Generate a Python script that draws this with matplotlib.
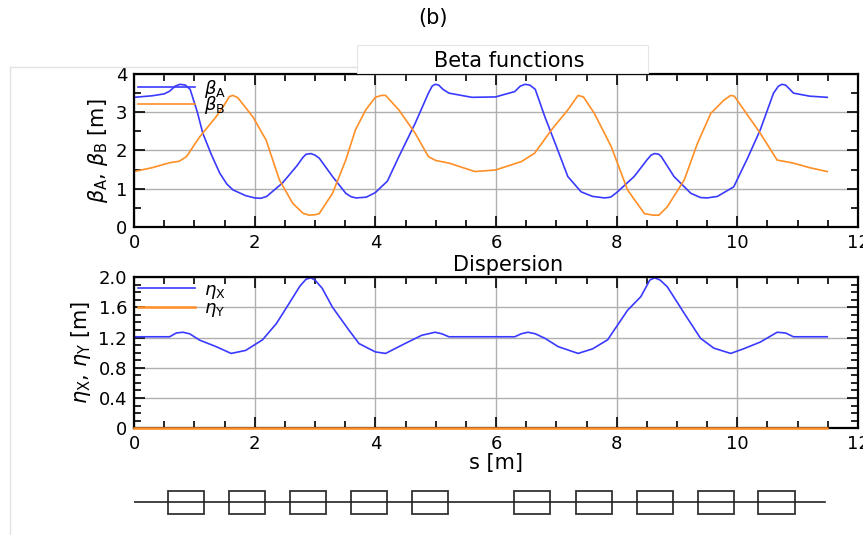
import matplotlib
matplotlib.use('Agg')
import matplotlib.pyplot as plt
from matplotlib.lines import Line2D
from matplotlib.patches import Rectangle
from matplotlib.ticker import MultipleLocator, FuncFormatter

plt.rcParams['font.family'] = ['DejaVu Sans']

# beta functions [m] along s [m]
s_beta_a = [0, 0.3, 0.5, 0.59, 0.68, 0.76, 0.85, 0.93, 1.05, 1.14, 1.28, 1.42, 1.54, 1.64, 1.85,
            2.0, 2.1, 2.2, 2.46, 2.7, 2.8, 2.85, 2.93, 3.0, 3.07, 3.29, 3.51, 3.6, 3.68, 3.85, 4.0,
            4.2, 4.39, 4.66, 4.88, 4.94, 4.99, 5.05, 5.12, 5.22, 5.6, 5.99, 6.31, 6.40, 6.48, 6.56,
            6.65, 6.81, 6.98, 7.19, 7.41, 7.60, 7.80, 7.9, 8.0, 8.29, 8.5, 8.57, 8.63, 8.70, 8.74,
            8.95, 9.23, 9.39, 9.5, 9.67, 9.94, 10.17, 10.38, 10.6, 10.68, 10.74, 10.8, 10.87, 10.93,
            11.2, 11.49]
beta_a = [3.39, 3.43, 3.48, 3.55, 3.68, 3.73, 3.71, 3.6, 3.0, 2.45, 1.9, 1.41, 1.12, 0.97, 0.82,
          0.76, 0.75, 0.8, 1.15, 1.6, 1.82, 1.9, 1.92, 1.88, 1.8, 1.32, 0.88, 0.79, 0.76, 0.78, 0.9,
          1.2, 1.84, 2.71, 3.5, 3.68, 3.73, 3.71, 3.6, 3.5, 3.39, 3.40, 3.54, 3.68, 3.73, 3.71,
          3.6, 2.88, 2.19, 1.32, 0.92, 0.8, 0.76, 0.78, 0.9, 1.32, 1.75, 1.88, 1.92, 1.9, 1.84,
          1.32, 0.88, 0.77, 0.76, 0.8, 1.05, 1.8, 2.54, 3.5, 3.68, 3.73, 3.71, 3.6, 3.5,
          3.42, 3.39]

s_beta_b = [0, 0.3, 0.59, 0.75, 0.87, 1.09, 1.36, 1.50, 1.58, 1.64, 1.72, 1.97, 2.19, 2.41, 2.63,
            2.80, 2.90, 3.0, 3.07, 3.29, 3.51, 3.67, 3.84, 4.0, 4.10, 4.17, 4.39, 4.66, 4.88, 5.0,
            5.22, 5.65, 5.99, 6.42, 6.64, 6.92, 7.19, 7.36, 7.45, 7.63, 7.91, 8.18, 8.46, 8.6, 8.70,
            8.84, 9.12, 9.34, 9.56, 9.78, 9.89, 9.95, 10.11, 10.38, 10.66, 10.93, 11.2, 11.49]
beta_b = [1.45, 1.55, 1.68, 1.72, 1.84, 2.36, 2.88, 3.2, 3.41, 3.44, 3.38, 2.88, 2.27, 1.23, 0.62,
          0.36, 0.31, 0.32, 0.35, 0.88, 1.75, 2.54, 3.06, 3.39, 3.44, 3.44, 3.06, 2.45, 1.84, 1.74,
          1.67, 1.45, 1.49, 1.71, 1.93, 2.54, 3.06, 3.44, 3.4, 2.97, 2.1, 0.97, 0.35, 0.31, 0.31,
          0.53, 1.23, 2.19, 2.97, 3.32, 3.44, 3.42, 3.06, 2.45, 1.75, 1.67, 1.55, 1.45]

# dispersion [m]
s_eta_x = [0, 0.59, 0.70, 0.81, 0.92, 1.09, 1.36, 1.61, 1.85, 2.13, 2.36, 2.57, 2.75, 2.85, 2.93,
           3.0, 3.12, 3.29, 3.56, 3.73, 4.0, 4.17, 4.49, 4.77, 4.99, 5.10, 5.22, 6.31, 6.42, 6.53,
           6.65, 6.81, 7.03, 7.36, 7.60, 7.85, 8.18, 8.40, 8.55, 8.63, 8.72, 8.84, 9.12, 9.39,
           9.61, 9.89, 10.10, 10.38, 10.66, 10.80, 10.93, 11.49]
eta_x = [1.21, 1.21, 1.26, 1.27, 1.25, 1.165, 1.08, 0.99, 1.03, 1.17, 1.385, 1.65, 1.88, 1.97, 1.99,
         1.96, 1.85, 1.6, 1.30, 1.12, 1.01, 0.99, 1.12, 1.23, 1.27, 1.25, 1.21, 1.21, 1.25, 1.27,
         1.25, 1.19, 1.08, 0.99, 1.05, 1.17, 1.56, 1.74, 1.96, 1.99, 1.96, 1.87, 1.52, 1.19,
         1.06, 0.99, 1.05, 1.14, 1.27, 1.26, 1.21, 1.21]
s_eta_y = [0, 11.49]
eta_y = [0, 0]

# lattice: magnet centres [m]
magnet_s = [0.86, 1.87, 2.88, 3.9, 4.9, 6.6, 7.63, 8.63, 9.64, 10.65]
magnet_len = 0.6
lattice_len = 11.45

blue = '#3a3aff'
orange = '#ff8f26'

fig = plt.figure(figsize=(8.63, 5.35), dpi=100)


def style(ax, ymax, ymajor, yminor, ytick_fmt=None):
    ax.set_xlim(0, 12)
    ax.set_ylim(0, ymax)
    ax.xaxis.set_major_locator(MultipleLocator(2))
    ax.xaxis.set_minor_locator(MultipleLocator(0.5))
    ax.yaxis.set_major_locator(MultipleLocator(ymajor))
    ax.yaxis.set_minor_locator(MultipleLocator(yminor))
    ax.tick_params(which='both', direction='in', top=True, right=True, labelsize=13, width=1.2)
    ax.tick_params(which='major', length=8, pad=5)
    ax.tick_params(which='minor', length=5)
    ax.grid(True, which='major', color='#b0b0b0', linewidth=1.0)
    for sp in ax.spines.values():
        sp.set_linewidth(1.6)
    if ytick_fmt:
        ax.yaxis.set_major_formatter(ytick_fmt)


ax1 = fig.add_axes([0.1553, 0.5757, 0.8389, 0.286])
ax1.plot(s_beta_a, beta_a, color=blue, lw=1.2, label=r'$\beta_\mathrm{A}$')
ax1.plot(s_beta_b, beta_b, color=orange, lw=1.2, label=r'$\beta_\mathrm{B}$')
style(ax1, 4, 1, 0.5)
ax1.set_ylabel(r'$\beta_\mathrm{A}$, $\beta_\mathrm{B}$ [m]', fontsize=15, labelpad=4)
ax1.legend(loc='upper left', frameon=False, fontsize=13, labelspacing=-0.3, handlelength=3.2,
           handletextpad=0.5, borderaxespad=0.1, borderpad=0.1)

ax2 = fig.add_axes([0.1553, 0.1994, 0.8389, 0.2828])
ax2.plot(s_eta_x, eta_x, color=blue, lw=1.2, label=r'$\eta_\mathrm{X}$')
ax2.plot(s_eta_y, eta_y, color=orange, lw=1.8, label=r'$\eta_\mathrm{Y}$', clip_on=False, zorder=5)
style(ax2, 2.0, 0.4, 0.1,
      FuncFormatter(lambda v, p: '0' if abs(v) < 1e-9 else f'{v:.1f}'))
ax2.set_ylabel(r'$\eta_\mathrm{X}$, $\eta_\mathrm{Y}$ [m]', fontsize=15, labelpad=4)
ax2.set_xlabel('s [m]', fontsize=15, labelpad=0)
ax2.legend(loc='upper left', frameon=False, fontsize=13, labelspacing=-0.1, handlelength=3.2,
           handletextpad=0.5, borderaxespad=0.1, borderpad=0.1)

# lattice sketch
ax3 = fig.add_axes([0.1553, 0.019, 0.8389, 0.084])
ax3.set_xlim(0, 12)
ax3.set_ylim(-1, 1)
ax3.axis('off')
ax3.plot([0, lattice_len], [0, 0], color='#222222', lw=1.2)
for c in magnet_s:
    ax3.add_patch(Rectangle((c - magnet_len / 2, -0.5), magnet_len, 1.0,
                            facecolor='none', edgecolor='#333333', lw=1.3))

# titles
fig.text(433 / 863, 0.966, '(b)', ha='center', va='center', fontsize=15)
title_box = Rectangle((357 / 863, 1 - 73 / 535), (648 - 357) / 863, 28 / 535,
                      transform=fig.transFigure, facecolor='white', edgecolor='#e6e6e6', lw=0.8)
fig.add_artist(title_box)
fig.text(509 / 863, 1 - 61 / 535, 'Beta functions', ha='center', va='center', fontsize=15)
fig.text(508 / 863, 1 - 265 / 535, 'Dispersion', ha='center', va='center', fontsize=15)

# faint frame of the pasted panel
fig.add_artist(Line2D([10 / 863, 10 / 863], [0, 1 - 67 / 535], transform=fig.transFigure,
                      color='#e2e2e2', lw=1))
fig.add_artist(Line2D([10 / 863, 357 / 863], [1 - 67 / 535, 1 - 67 / 535],
                      transform=fig.transFigure, color='#e2e2e2', lw=1))

fig.savefig('out.png', dpi=100)
